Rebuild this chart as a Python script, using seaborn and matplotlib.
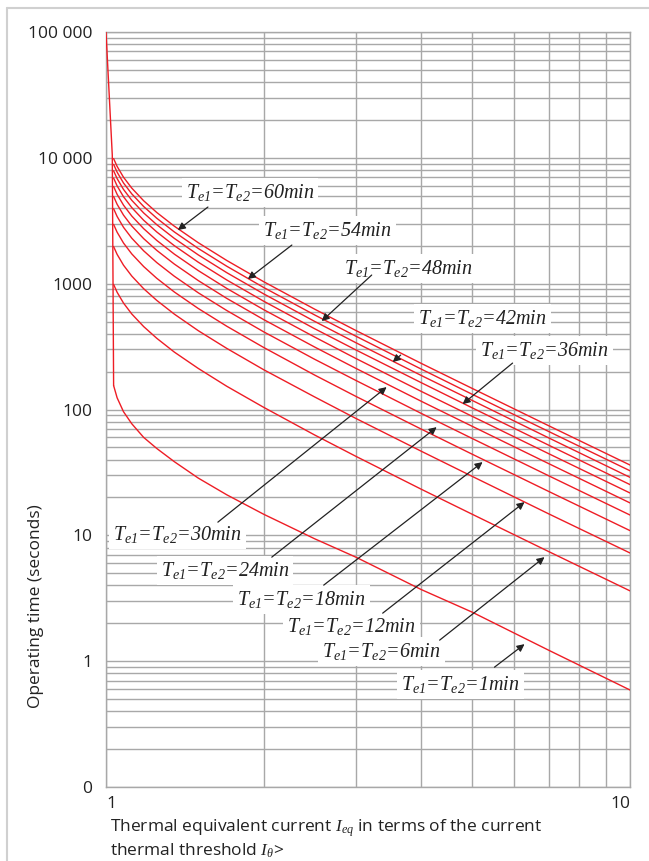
import numpy as np
import pandas as pd
import matplotlib
matplotlib.use("Agg")
import matplotlib.pyplot as plt
import seaborn as sns
from matplotlib.lines import Line2D
from matplotlib.ticker import FixedLocator, NullFormatter, FixedFormatter

# ---------------- data ----------------
I_points = [1.034, 1.05, 1.08, 1.12, 1.18, 1.25, 1.35, 1.5, 1.7, 2.0, 2.5, 3.0, 4.0, 5.0, 7.0, 10.0]

t_60min = [9857, 8552, 7010, 5744, 4559, 3678, 2864, 2116, 1529, 1036, 628, 424, 232, 147, 74.2, 36.2]
t_54min = [8871, 7697, 6309, 5169, 4103, 3310, 2578, 1904, 1376, 932, 565, 382, 209, 132, 66.8, 32.6]
t_48min = [7885, 6841, 5608, 4595, 3648, 2942, 2291, 1693, 1223, 829, 502, 339, 186, 118, 59.4, 28.9]
t_42min = [6900, 5986, 4907, 4021, 3192, 2575, 2005, 1481, 1070, 725, 439, 297, 163, 103, 52.0, 25.3]
t_36min = [5914, 5131, 4206, 3446, 2736, 2207, 1718, 1270, 917, 621, 377, 254, 139, 88.2, 44.5, 21.7]
t_30min = [4928, 4276, 3505, 2872, 2280, 1839, 1432, 1058, 764, 518, 314, 212, 116, 73.5, 37.1, 18.1]
t_24min = [3943, 3421, 2804, 2298, 1824, 1471, 1146, 846, 612, 414, 251, 170, 92.9, 58.8, 29.7, 14.5]
t_18min = [2957, 2566, 2103, 1723, 1368, 1103, 859, 635, 459, 311, 188, 127, 69.7, 44.1, 22.3, 10.9]
t_12min = [1971, 1710, 1402, 1149, 912, 736, 573, 423, 306, 207, 126, 84.8, 46.5, 29.4, 14.8, 7.24]
t_6min = [986, 855, 701, 574, 456, 368, 286, 212, 153, 104, 62.8, 42.4, 23.2, 14.7, 7.42, 3.62]
t_1min = [155, 124, 96, 77, 60, 49, 38.5, 28.5, 21, 14.7, 9.4, 6.7, 3.7, 2.45, 1.22, 0.59]

curve_names = ["60min", "54min", "48min", "42min", "36min", "30min",
               "24min", "18min", "12min", "6min", "1min"]
curve_values = [t_60min, t_54min, t_48min, t_42min, t_36min, t_30min,
                t_24min, t_18min, t_12min, t_6min, t_1min]

# steep starting branch near I = 1
env_I = [1.0, 1.028, 1.034]
env_t = [100000, 10500, 155]

y_ticks = [0.1, 1, 10, 100, 1000, 10000, 100000]
y_tick_labels = ["0", "1", "10", "100", "1000", "10 000", "100 000"]
x_ticks = [1, 10]
x_tick_labels = ["1", "10"]
x_minor = [2, 3, 4, 5, 6, 7, 8, 9]

label_minutes = ["60", "54", "48", "42", "36", "30", "24", "18", "12", "6", "1"]
label_pos = [(1.882, 5346), (2.650, 2668), (3.780, 1331), (5.232, 533), (6.868, 296.6),
             (1.371, 10.22), (1.686, 5.29), (2.364, 3.11), (2.944, 1.898), (3.358, 1.201),
             (4.751, 0.656)]
arrow_tail = [(1.565, 4064), (2.263, 2027), (3.214, 1171), (3.650, 270.6), (5.969, 233.8),
              (1.635, 12.73), (2.072, 6.71), (2.603, 4.02), (3.373, 2.407), (4.332, 1.469),
              (5.513, 0.896)]
arrow_tip = [(1.371, 2668), (1.865, 1088), (2.580, 504), (3.525, 238.2), (4.792, 110.4),
             (3.432, 150.7), (4.276, 72.4), (5.232, 38.2), (6.291, 18.36), (6.868, 6.71),
             (6.291, 1.365)]

# ---------------- build table ----------------
rows = []
for name, vals in zip(curve_names, curve_values):
    for i, t in zip(I_points, vals):
        rows.append({"I": i, "t": t, "curve": name})
for i, t in zip(env_I, env_t):
    rows.append({"I": i, "t": t, "curve": "start"})
df = pd.DataFrame(rows)

# ---------------- style ----------------
sns.set_style("white")
plt.rcParams["font.family"] = ["Open Sans", "DejaVu Sans"]
plt.rcParams["mathtext.fontset"] = "custom"
plt.rcParams["mathtext.it"] = "Liberation Serif:italic"
plt.rcParams["mathtext.rm"] = "Liberation Serif:italic"
plt.rcParams["mathtext.default"] = "it"

W, H = 649, 861
fig = plt.figure(figsize=(W / 100, H / 100), dpi=100)
ax = fig.add_axes([106 / W, 1 - 787 / H, 524 / W, 755 / H])

grid_col = "#a8a8a8"
red = "#ee1d25"

order = curve_names + ["start"]
sns.lineplot(data=df, x="I", y="t", hue="curve", hue_order=order,
             palette=[red] * len(order), legend=False, estimator=None,
             sort=False, linewidth=1.0, ax=ax, zorder=3)

ax.set_xscale("log")
ax.set_yscale("log")
ax.set_xlim(1, 10)
ax.set_ylim(0.1, 100000)

ax.xaxis.set_major_locator(FixedLocator(x_ticks))
ax.xaxis.set_major_formatter(FixedFormatter(x_tick_labels))
ax.xaxis.set_minor_locator(FixedLocator(x_minor))
ax.xaxis.set_minor_formatter(NullFormatter())
ax.yaxis.set_major_locator(FixedLocator(y_ticks))
ax.yaxis.set_major_formatter(FixedFormatter(y_tick_labels))
y_minor = [m * 10.0 ** e for e in range(-1, 5) for m in range(2, 10)]
ax.yaxis.set_minor_locator(FixedLocator(y_minor))
ax.yaxis.set_minor_formatter(NullFormatter())

ax.grid(True, which="both", color=grid_col, linewidth=1.0)
ax.set_axisbelow(True)
for s in ax.spines.values():
    s.set_color(grid_col)
    s.set_linewidth(1.0)

ax.tick_params(axis="both", which="major", direction="out", length=4.5, width=1.0,
               color=grid_col, labelsize=12.5, labelcolor="#222222")
ax.tick_params(axis="y", which="major", pad=5.5)
ax.tick_params(axis="x", which="major", pad=2)
ax.tick_params(axis="both", which="minor", length=0)
xl = ax.get_xticklabels()
xl[0].set_ha("left")
xl[1].set_ha("right")

ax.set_ylabel("Operating time (seconds)", fontsize=12.5, color="#222222")
ax.yaxis.set_label_coords(-0.118, 0.24)
ax.set_xlabel("Thermal equivalent current $I_{eq}$ in terms of the current\n"
              "thermal threshold $I_{\\theta}$>", fontsize=12.5, color="#222222",
              loc="left", linespacing=1.15, labelpad=4)
ax.xaxis.label.set_x(0.008)

# ---------------- annotations ----------------
for m, pos, tail, tip in zip(label_minutes, label_pos, arrow_tail, arrow_tip):
    ax.text(pos[0], pos[1], r"$T_{e1}$=$T_{e2}$=" + m + "min",
            family="Liberation Serif", style="italic", fontsize=14.5,
            color="#222222", ha="center", va="center", zorder=5,
            bbox=dict(boxstyle="square,pad=0.2", facecolor="white", edgecolor="none"))
    ax.annotate("", xy=tip, xytext=tail,
                arrowprops=dict(arrowstyle="-|>", color="#222222", lw=0.9,
                                mutation_scale=11, shrinkA=0, shrinkB=0),
                zorder=6)

# outer frame (top and left, light grey)
fig.add_artist(Line2D([7 / W, 1], [1 - 8 / H, 1 - 8 / H], transform=fig.transFigure,
                      color="#d0d0d0", lw=1.5))
fig.add_artist(Line2D([7 / W, 7 / W], [0, 1 - 8 / H], transform=fig.transFigure,
                      color="#d0d0d0", lw=1.5))

fig.savefig("out.png", dpi=100, facecolor="white")
